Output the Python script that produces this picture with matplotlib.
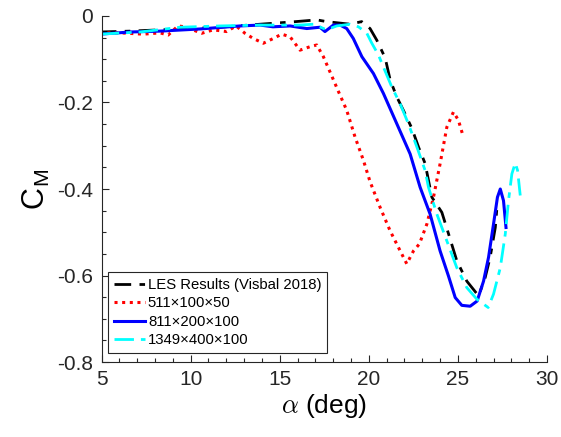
import matplotlib
matplotlib.use('Agg')
import matplotlib.pyplot as plt
from matplotlib.ticker import MultipleLocator

plt.rcParams['font.family'] = ['Liberation Sans', 'DejaVu Sans']
plt.rcParams['mathtext.fontset'] = 'cm'
plt.rcParams['axes.unicode_minus'] = False

# LES reference (Visbal 2018)
les_alpha = [4.9, 6.6, 9.4, 11.6, 13.9, 15.6, 17.08, 17.64, 18.95, 19.6, 20.07, 20.45,
             20.92, 21.2, 21.57, 21.94, 22.42, 22.79, 23.16, 23.54, 24.1, 24.47, 24.94,
             25.5, 26.16, 26.53, 26.81, 27.1, 27.2]
les_cm = [-0.037, -0.035, -0.030, -0.026, -0.019, -0.014, -0.009, -0.013, -0.019, -0.013,
          -0.029, -0.056, -0.097, -0.148, -0.187, -0.218, -0.26, -0.303, -0.341, -0.419,
          -0.454, -0.503, -0.566, -0.613, -0.647, -0.605, -0.558, -0.489, -0.439]

# coarse grid
coarse_alpha = [4.9, 6.03, 7.34, 8.28, 8.74, 9.29, 9.68, 10.62, 11.27, 12.02, 12.55, 13.05,
                13.52, 14.08, 14.64, 15.11, 15.58, 16.14, 16.7, 17.08, 17.45, 17.83, 18.29,
                18.76, 19.23, 19.7, 20.07, 20.63, 21.2, 21.76, 22.13, 22.51, 22.84, 23.26,
                23.63, 24.0, 24.38, 24.75, 25.03, 25.31]
coarse_cm = [-0.039, -0.039, -0.042, -0.039, -0.044, -0.023, -0.025, -0.04, -0.032, -0.036,
             -0.023, -0.04, -0.052, -0.063, -0.052, -0.042, -0.048, -0.079, -0.071, -0.067,
             -0.094, -0.13, -0.174, -0.218, -0.28, -0.334, -0.383, -0.442, -0.497, -0.543,
             -0.573, -0.543, -0.527, -0.481, -0.419, -0.342, -0.257, -0.222, -0.241, -0.28]

# medium grid
medium_alpha = [4.9, 6.6, 8.27, 10.52, 12.77, 13.9, 14.62, 15.58, 16.52, 17.26, 17.54, 18.01,
                18.39, 18.76, 19.13, 19.61, 20.26, 20.82, 21.57, 22.32, 22.88, 23.44, 24.0,
                24.47, 24.85, 25.22, 25.69, 26.08, 26.44, 26.72, 27.0, 27.22, 27.38, 27.56, 27.7]
medium_cm = [-0.042, -0.037, -0.035, -0.030, -0.023, -0.021, -0.025, -0.023, -0.029, -0.026,
             -0.036, -0.021, -0.021, -0.029, -0.052, -0.094, -0.133, -0.179, -0.249, -0.319,
             -0.396, -0.458, -0.543, -0.601, -0.651, -0.669, -0.671, -0.659, -0.613, -0.558,
             -0.481, -0.419, -0.40, -0.427, -0.489]

# fine grid
fine_alpha = [4.9, 7.15, 9.4, 11.65, 13.9, 16.14, 16.89, 17.64, 18.2, 18.95, 19.42, 19.89,
              20.17, 20.54, 20.82, 21.29, 21.76, 22.22, 22.7, 23.16, 23.35, 23.82, 24.38,
              24.94, 25.5, 26.07, 26.7, 27.0, 27.38, 27.66, 27.84, 28.03, 28.22, 28.35, 28.5]
fine_cm = [-0.042, -0.037, -0.026, -0.023, -0.021, -0.021, -0.019, -0.032, -0.023, -0.019,
           -0.025, -0.04, -0.063, -0.09, -0.118, -0.164, -0.203, -0.249, -0.303, -0.357,
           -0.396, -0.458, -0.52, -0.582, -0.628, -0.655, -0.674, -0.643, -0.582, -0.504,
           -0.427, -0.365, -0.34, -0.357, -0.415]

labels = ['LES Results (Visbal 2018)', '511\u00d7100\u00d750', '811\u00d7200\u00d7100',
          '1349\u00d7400\u00d7100']

fig = plt.figure(figsize=(5.61, 4.37), dpi=100)
ax = fig.add_axes([0.181, 0.1716, 0.794, 0.7918])

dashdot = (0, (6, 3, 2, 3))
ax.plot(les_alpha, les_cm, color='black', linestyle=dashdot, linewidth=2, label=labels[0])
ax.plot(coarse_alpha, coarse_cm, color='red', linestyle=(0, (1, 1.5)), linewidth=2.2, label=labels[1])
ax.plot(medium_alpha, medium_cm, color='blue', linestyle='-', linewidth=2.2, label=labels[2])
ax.plot(fine_alpha, fine_cm, color='cyan', linestyle=(0, (7, 2.5, 2, 2.5)), linewidth=2, label=labels[3])

ax.set_xlim(5, 30)
ax.set_ylim(-0.8, 0)
ax.xaxis.set_major_locator(MultipleLocator(5))
ax.xaxis.set_minor_locator(MultipleLocator(1))
ax.yaxis.set_minor_locator(MultipleLocator(0.05))
ax.set_yticks([0, -0.2, -0.4, -0.6, -0.8])
ax.set_yticklabels(['0', '-0.2', '-0.4', '-0.6', '-0.8'])

for side in ['top', 'right']:
    ax.spines[side].set_visible(False)
for side in ['left', 'bottom']:
    ax.spines[side].set_color('#262626')
    ax.spines[side].set_linewidth(0.8)
ax.tick_params(which='both', direction='in', colors='#262626', labelsize=15)
ax.tick_params(which='major', length=5, width=0.8)
ax.tick_params(which='minor', length=3, width=0.8)
ax.tick_params(axis='x', pad=6)
ax.tick_params(axis='y', pad=6)

ax.set_xlabel(r'$\alpha$ (deg)', fontsize=19, labelpad=2)
ax.set_ylabel(r'C$_{\mathregular{M}}$', fontsize=22, labelpad=4)

leg = ax.legend(loc='lower left', bbox_to_anchor=(0.014, 0.025), borderaxespad=0,
                fontsize=10.7, fancybox=False, framealpha=1, edgecolor='#262626',
                handlelength=2.1, handletextpad=0.2, labelspacing=0.3, borderpad=0.4)
leg.get_frame().set_linewidth(0.8)

plt.savefig('out.png', dpi=100)
